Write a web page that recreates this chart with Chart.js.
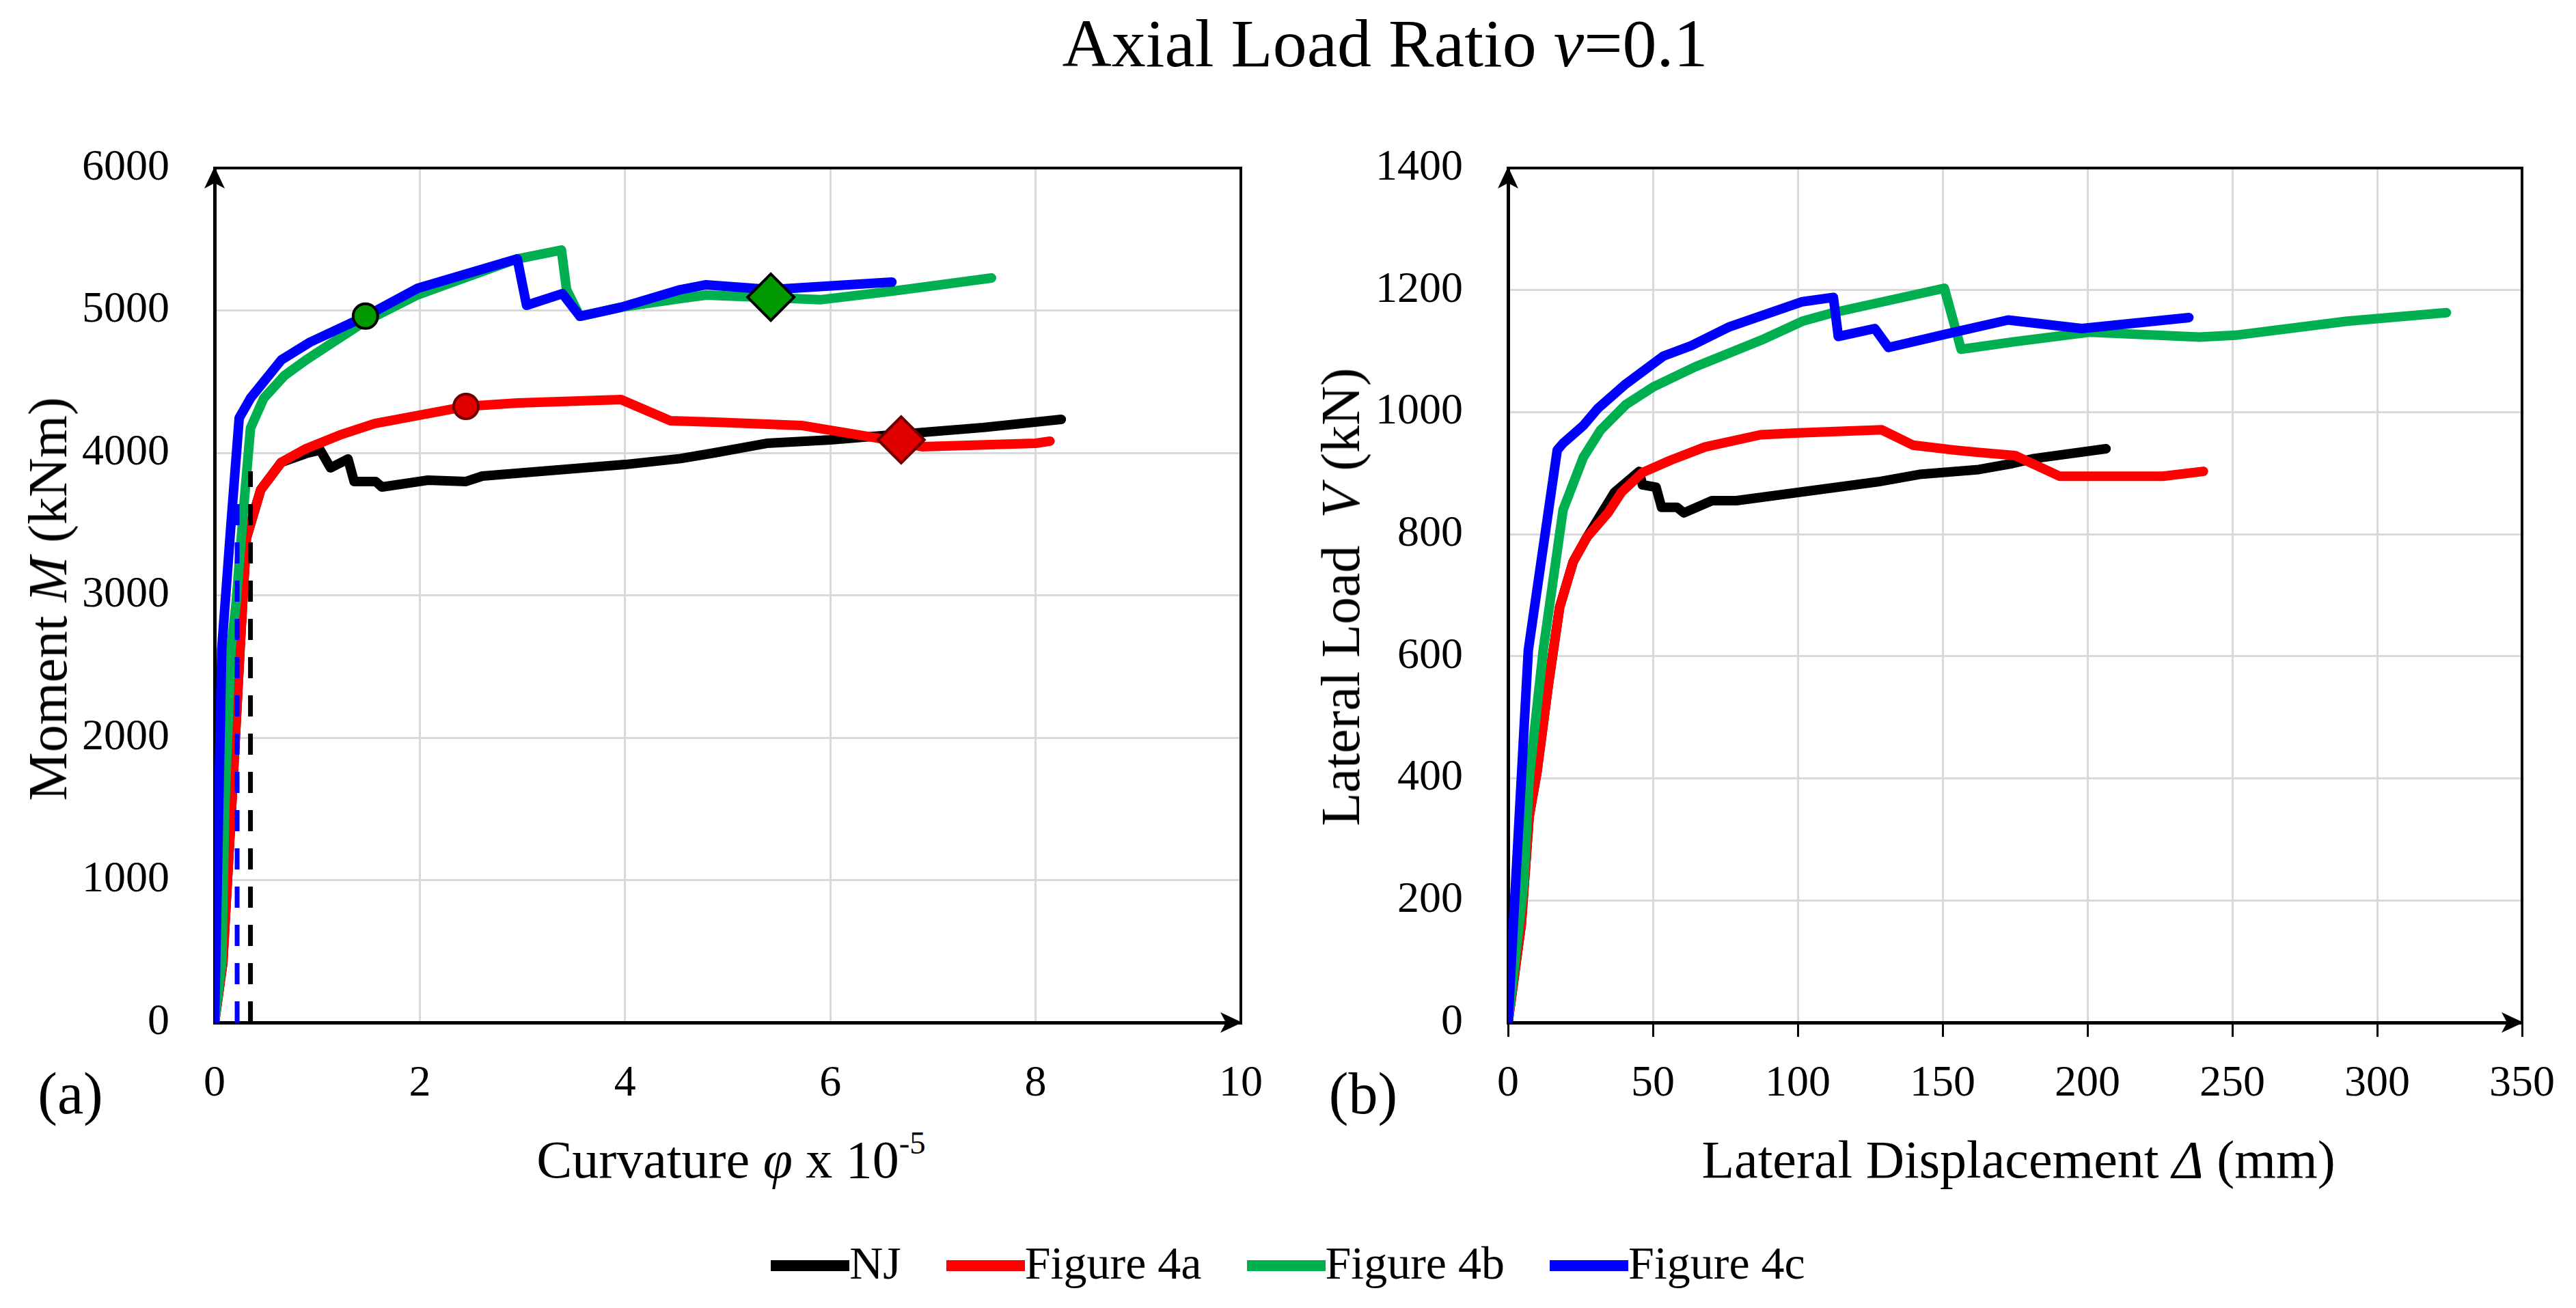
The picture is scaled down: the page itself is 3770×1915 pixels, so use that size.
<!DOCTYPE html>
<html>
<head>
<meta charset="utf-8">
<title>Axial Load Ratio v=0.1</title>
<script src="https://cdn.jsdelivr.net/npm/chart.js@4.4.1/dist/chart.umd.min.js"></script>
<style>
  html, body { margin: 0; padding: 0; background: #fff; }
  #page { position: relative; width: 3770px; height: 1915px; overflow: hidden;
          font-family: 'Liberation Serif', 'Times New Roman', serif; color: #000; }
  canvas { position: absolute; top: 0; }
  .txt { position: absolute; white-space: nowrap; line-height: 1; }
  .ytitle { transform: translate(-50%, -50%) rotate(-90deg); font-size: 80px; }
  .xtitle { transform: translateX(-50%); font-size: 78px; }
  .panel { transform: translateX(-50%); font-size: 86px; }
  sup { font-size: 0.6em; line-height: 0; vertical-align: 0.75em; }
  #legend { position: absolute; left: 0; width: 3770px; top: 1815px; height: 68px;
            display: flex; justify-content: center; align-items: center;
            font-size: 68px; line-height: 1; }
  #legend .item { display: flex; align-items: center; margin: 0 33px; }
  #legend .sw { width: 115px; height: 16px; margin-top: 8px; }
</style>
</head>
<body>
<div id="page">
  <canvas id="chartA" width="1900" height="1640" style="left:0"></canvas>
  <canvas id="chartB" width="1870" height="1640" style="left:1900px"></canvas>

  <div class="txt" style="left:2027px; top:14px; transform:translateX(-50%); font-size:100px;">Axial Load Ratio <i>v</i>=0.1</div>

  <div class="txt ytitle" style="left:70px; top:877px;">Moment <i>M</i> (kNm)</div>
  <div class="txt ytitle" style="left:1962px; top:874px;">Lateral Load&nbsp; <i>V</i> (kN)</div>

  <div class="txt xtitle" style="left:1070px; top:1659px;">Curvature <i>φ</i> x 10<sup>-5</sup></div>
  <div class="txt xtitle" style="left:2954px; top:1659px;">Lateral Displacement <i>Δ</i> (mm)</div>

  <div class="txt panel" style="left:103px; top:1558px;">(a)</div>
  <div class="txt panel" style="left:1995px; top:1558px;">(b)</div>

  <div id="legend"></div>
</div>

<script>
// ---- (a) moment - curvature (curvature x 1e-5, moment kNm)
const curvNJ = [0, 0.08, 0.18, 0.25, 0.31, 0.45, 0.65, 0.89, 1.03, 1.13, 1.30, 1.36, 1.57, 1.63, 2.08, 2.45, 2.61, 4.00, 4.54, 4.87, 5.38, 6.00, 7.49, 8.25];
const momNJ  = [0, 420, 1700, 2650, 3400, 3741, 3933, 3995, 4019, 3895, 3957, 3799, 3799, 3760, 3808, 3799, 3837, 3918, 3960, 4000, 4067, 4091, 4178, 4235];

const curv4a = [0, 0.08, 0.18, 0.25, 0.31, 0.45, 0.65, 0.89, 1.22, 1.56, 2.45, 2.95, 3.96, 4.44, 4.87, 5.72, 6.44, 6.90, 8.00, 8.14];
const mom4a  = [0, 420, 1700, 2650, 3400, 3741, 3933, 4029, 4125, 4206, 4326, 4350, 4374, 4226, 4216, 4192, 4106, 4043, 4067, 4082];

const curv4b = [0, 0.07, 0.10, 0.16, 0.21, 0.28, 0.35, 0.48, 0.68, 0.89, 1.47, 1.98, 2.95, 3.38, 3.43, 3.56, 3.96, 4.54, 4.79, 5.42, 5.90, 6.60, 7.57];
const mom4b  = [0, 420, 1520, 2623, 2945, 3583, 4173, 4384, 4542, 4652, 4925, 5110, 5362, 5424, 5146, 4959, 5022, 5084, 5108, 5090, 5075, 5135, 5228];

const curv4c = [0, 0.07, 0.16, 0.24, 0.35, 0.65, 0.93, 1.47, 1.98, 2.95, 3.04, 3.39, 3.56, 3.96, 4.54, 4.79, 5.42, 6.60];
const mom4c  = [0, 2620, 3500, 4245, 4384, 4652, 4777, 4959, 5156, 5362, 5036, 5118, 4959, 5022, 5146, 5180, 5146, 5199];

// yield (circles) and ultimate (diamonds) points: Figure 4b, Figure 4a
const yieldCurv = [1.47, 2.45];
const yieldMom  = [4960, 4326];
const ultCurv   = [5.42, 6.69];
const ultMom    = [5093, 4091];
// dashed yield curvature lines (blue, black)
const yieldLineCurv = [0.22, 0.35];
const yieldLineTop  = [3650, 3870];

// ---- (b) lateral load - displacement (mm, kN)
const dispNJ = [0, 4.6, 7.3, 10, 14, 17.8, 22.5, 27.2, 36.8, 45.3, 46.4, 51.1, 53.0, 58.4, 60.7, 70.4, 78.8, 127.8, 142, 162.5, 174.2, 181.5, 206.4];
const loadNJ = [0, 162, 338, 411, 556, 680, 755, 795, 869, 903, 881, 877, 844, 844, 835, 855, 855, 886, 898, 906, 916, 924, 940];

const disp4a = [0, 4.6, 7.3, 10, 14, 17.8, 22.5, 27.2, 34.5, 39.2, 46.4, 56, 68, 87.2, 100.4, 129, 139.8, 154, 162.5, 175, 190.4, 226, 240];
const load4a = [0, 162, 338, 411, 556, 680, 755, 795, 835, 869, 901, 921, 943, 963, 966, 971, 946, 938, 934, 929, 895, 895, 903];

const disp4b = [0, 5.4, 7.3, 12.2, 19, 26, 32, 40.6, 50, 64.5, 88.4, 101.6, 112.3, 150.6, 156.4, 174.2, 200.7, 238.7, 251, 289.6, 323.9];
const load4b = [0, 227, 400, 612, 840, 926, 971, 1012, 1041, 1074, 1120, 1149, 1163, 1203, 1103, 1115, 1131, 1123, 1126, 1149, 1163];

const disp4c = [0, 7, 17, 19, 26, 31, 40.6, 53.7, 63.3, 76.5, 101.6, 112.3, 114, 126.6, 131.3, 154, 172.6, 198, 235];
const load4c = [0, 610, 938, 949, 978, 1006, 1046, 1092, 1109, 1140, 1181, 1188, 1124, 1137, 1106, 1131, 1151, 1137, 1155];

const seriesNames  = ['NJ', 'Figure 4a', 'Figure 4b', 'Figure 4c'];
const seriesColors = ['#000000', '#ff0000', '#00b050', '#0000ff'];

// ------------------------------------------------------------------
function toPts(xs, ys) {
    return xs.map((x, i) => ({ x: x, y: ys[i] }));
}

function curve(label, xs, ys, color, order) {
    return {
        label: label,
        data: toPts(xs, ys),
        borderColor: color,
        backgroundColor: color,
        borderWidth: 14,
        pointRadius: 0,
        tension: 0,
        borderJoinStyle: 'round',
        borderCapStyle: 'round',
        order: order
    };
}

// frame on top/right plus the two axis arrow heads
const frameArrows = {
    id: 'frameArrows',
    afterDraw(chart) {
        const ctx = chart.ctx;
        const a = chart.chartArea;
        ctx.save();
        ctx.strokeStyle = '#000';
        ctx.lineWidth = 4;
        ctx.beginPath();
        ctx.moveTo(a.left, a.top);
        ctx.lineTo(a.right, a.top);
        ctx.lineTo(a.right, a.bottom);
        ctx.stroke();

        ctx.fillStyle = '#000';
        ctx.beginPath();
        ctx.moveTo(a.left, a.top - 2);
        ctx.lineTo(a.left - 15, a.top + 30);
        ctx.lineTo(a.left, a.top + 22);
        ctx.lineTo(a.left + 15, a.top + 30);
        ctx.closePath();
        ctx.fill();

        ctx.beginPath();
        ctx.moveTo(a.right + 2, a.bottom);
        ctx.lineTo(a.right - 30, a.bottom - 15);
        ctx.lineTo(a.right - 22, a.bottom);
        ctx.lineTo(a.right - 30, a.bottom + 15);
        ctx.closePath();
        ctx.fill();
        ctx.restore();
    }
};

const tickFont = { family: "'Liberation Serif', 'Times New Roman', serif", size: 64 };
const plainNumber = v => String(v);

function makeOptions(o) {
    return {
        responsive: false,
        animation: false,
        devicePixelRatio: 1,
        events: [],
        layout: { padding: { top: 246, right: o.padRight, left: 0, bottom: 0 } },
        plugins: { legend: { display: false }, tooltip: { enabled: false } },
        scales: {
            x: {
                type: 'linear',
                min: o.xMin, max: o.xMax,
                ticks: { stepSize: o.xStep, font: tickFont, color: '#000', callback: plainNumber,
                         padding: o.xTickMarks ? 31 : 52, maxRotation: 0 },
                grid: {
                    color: '#d9d9d9', lineWidth: 3,
                    drawTicks: o.xTickMarks, tickLength: 21, tickColor: '#000', tickWidth: 3
                },
                border: { color: '#000', width: 5 },
                afterFit: s => { s.height = 143; }
            },
            y: {
                type: 'linear',
                min: o.yMin, max: o.yMax,
                ticks: { stepSize: o.yStep, font: tickFont, color: '#000', callback: plainNumber, padding: 66 },
                grid: { color: '#d9d9d9', lineWidth: 3, drawTicks: false },
                border: { color: '#000', width: 5 },
                afterFit: s => { s.width = o.yWidth; }
            }
        }
    };
}

// ---- chart (a)
const datasetsA = [
    {
        label: 'points',
        data: toPts(yieldCurv.concat(ultCurv), yieldMom.concat(ultMom)),
        showLine: false,
        pointStyle: ['circle', 'circle', 'rectRot', 'rectRot'],
        pointRadius: [18, 18, 34, 34],
        pointBackgroundColor: ['#009a00', '#e00000', '#009a00', '#e00000'],
        pointBorderColor: ['#000000', '#700000', '#000000', '#700000'],
        pointBorderWidth: 4,
        order: 0
    }
];
yieldLineCurv.forEach((c, i) => {
    datasetsA.push({
        label: 'yield ' + i,
        data: toPts([c, c], [0, yieldLineTop[i]]),
        borderColor: i === 0 ? '#0000ff' : '#000000',
        borderWidth: 7,
        borderDash: [31, 25],
        pointRadius: 0,
        order: 1
    });
});
datasetsA.push(curve(seriesNames[3], curv4c, mom4c, seriesColors[3], 2));
datasetsA.push(curve(seriesNames[2], curv4b, mom4b, seriesColors[2], 3));
datasetsA.push(curve(seriesNames[1], curv4a, mom4a, seriesColors[1], 4));
datasetsA.push(curve(seriesNames[0], curvNJ, momNJ, seriesColors[0], 5));

new Chart(document.getElementById('chartA').getContext('2d'), {
    type: 'line',
    data: { datasets: datasetsA },
    options: makeOptions({ xMin: 0, xMax: 10, xStep: 2, yMin: 0, yMax: 6000, yStep: 1000,
                           yWidth: 314, padRight: 74, xTickMarks: false }),
    plugins: [frameArrows]
});

// ---- chart (b)
const datasetsB = [
    curve(seriesNames[3], disp4c, load4c, seriesColors[3], 2),
    curve(seriesNames[2], disp4b, load4b, seriesColors[2], 3),
    curve(seriesNames[1], disp4a, load4a, seriesColors[1], 4),
    curve(seriesNames[0], dispNJ, loadNJ, seriesColors[0], 5)
];

new Chart(document.getElementById('chartB').getContext('2d'), {
    type: 'line',
    data: { datasets: datasetsB },
    options: makeOptions({ xMin: 0, xMax: 350, xStep: 50, yMin: 0, yMax: 1400, yStep: 200,
                           yWidth: 307, padRight: 68, xTickMarks: true }),
    plugins: [frameArrows]
});

// ---- shared legend
const legend = document.getElementById('legend');
seriesNames.forEach((name, i) => {
    const item = document.createElement('div');
    item.className = 'item';
    const sw = document.createElement('span');
    sw.className = 'sw';
    sw.style.background = seriesColors[i];
    const t = document.createElement('span');
    t.textContent = name;
    item.appendChild(sw);
    item.appendChild(t);
    legend.appendChild(item);
});
</script>
</body>
</html>
